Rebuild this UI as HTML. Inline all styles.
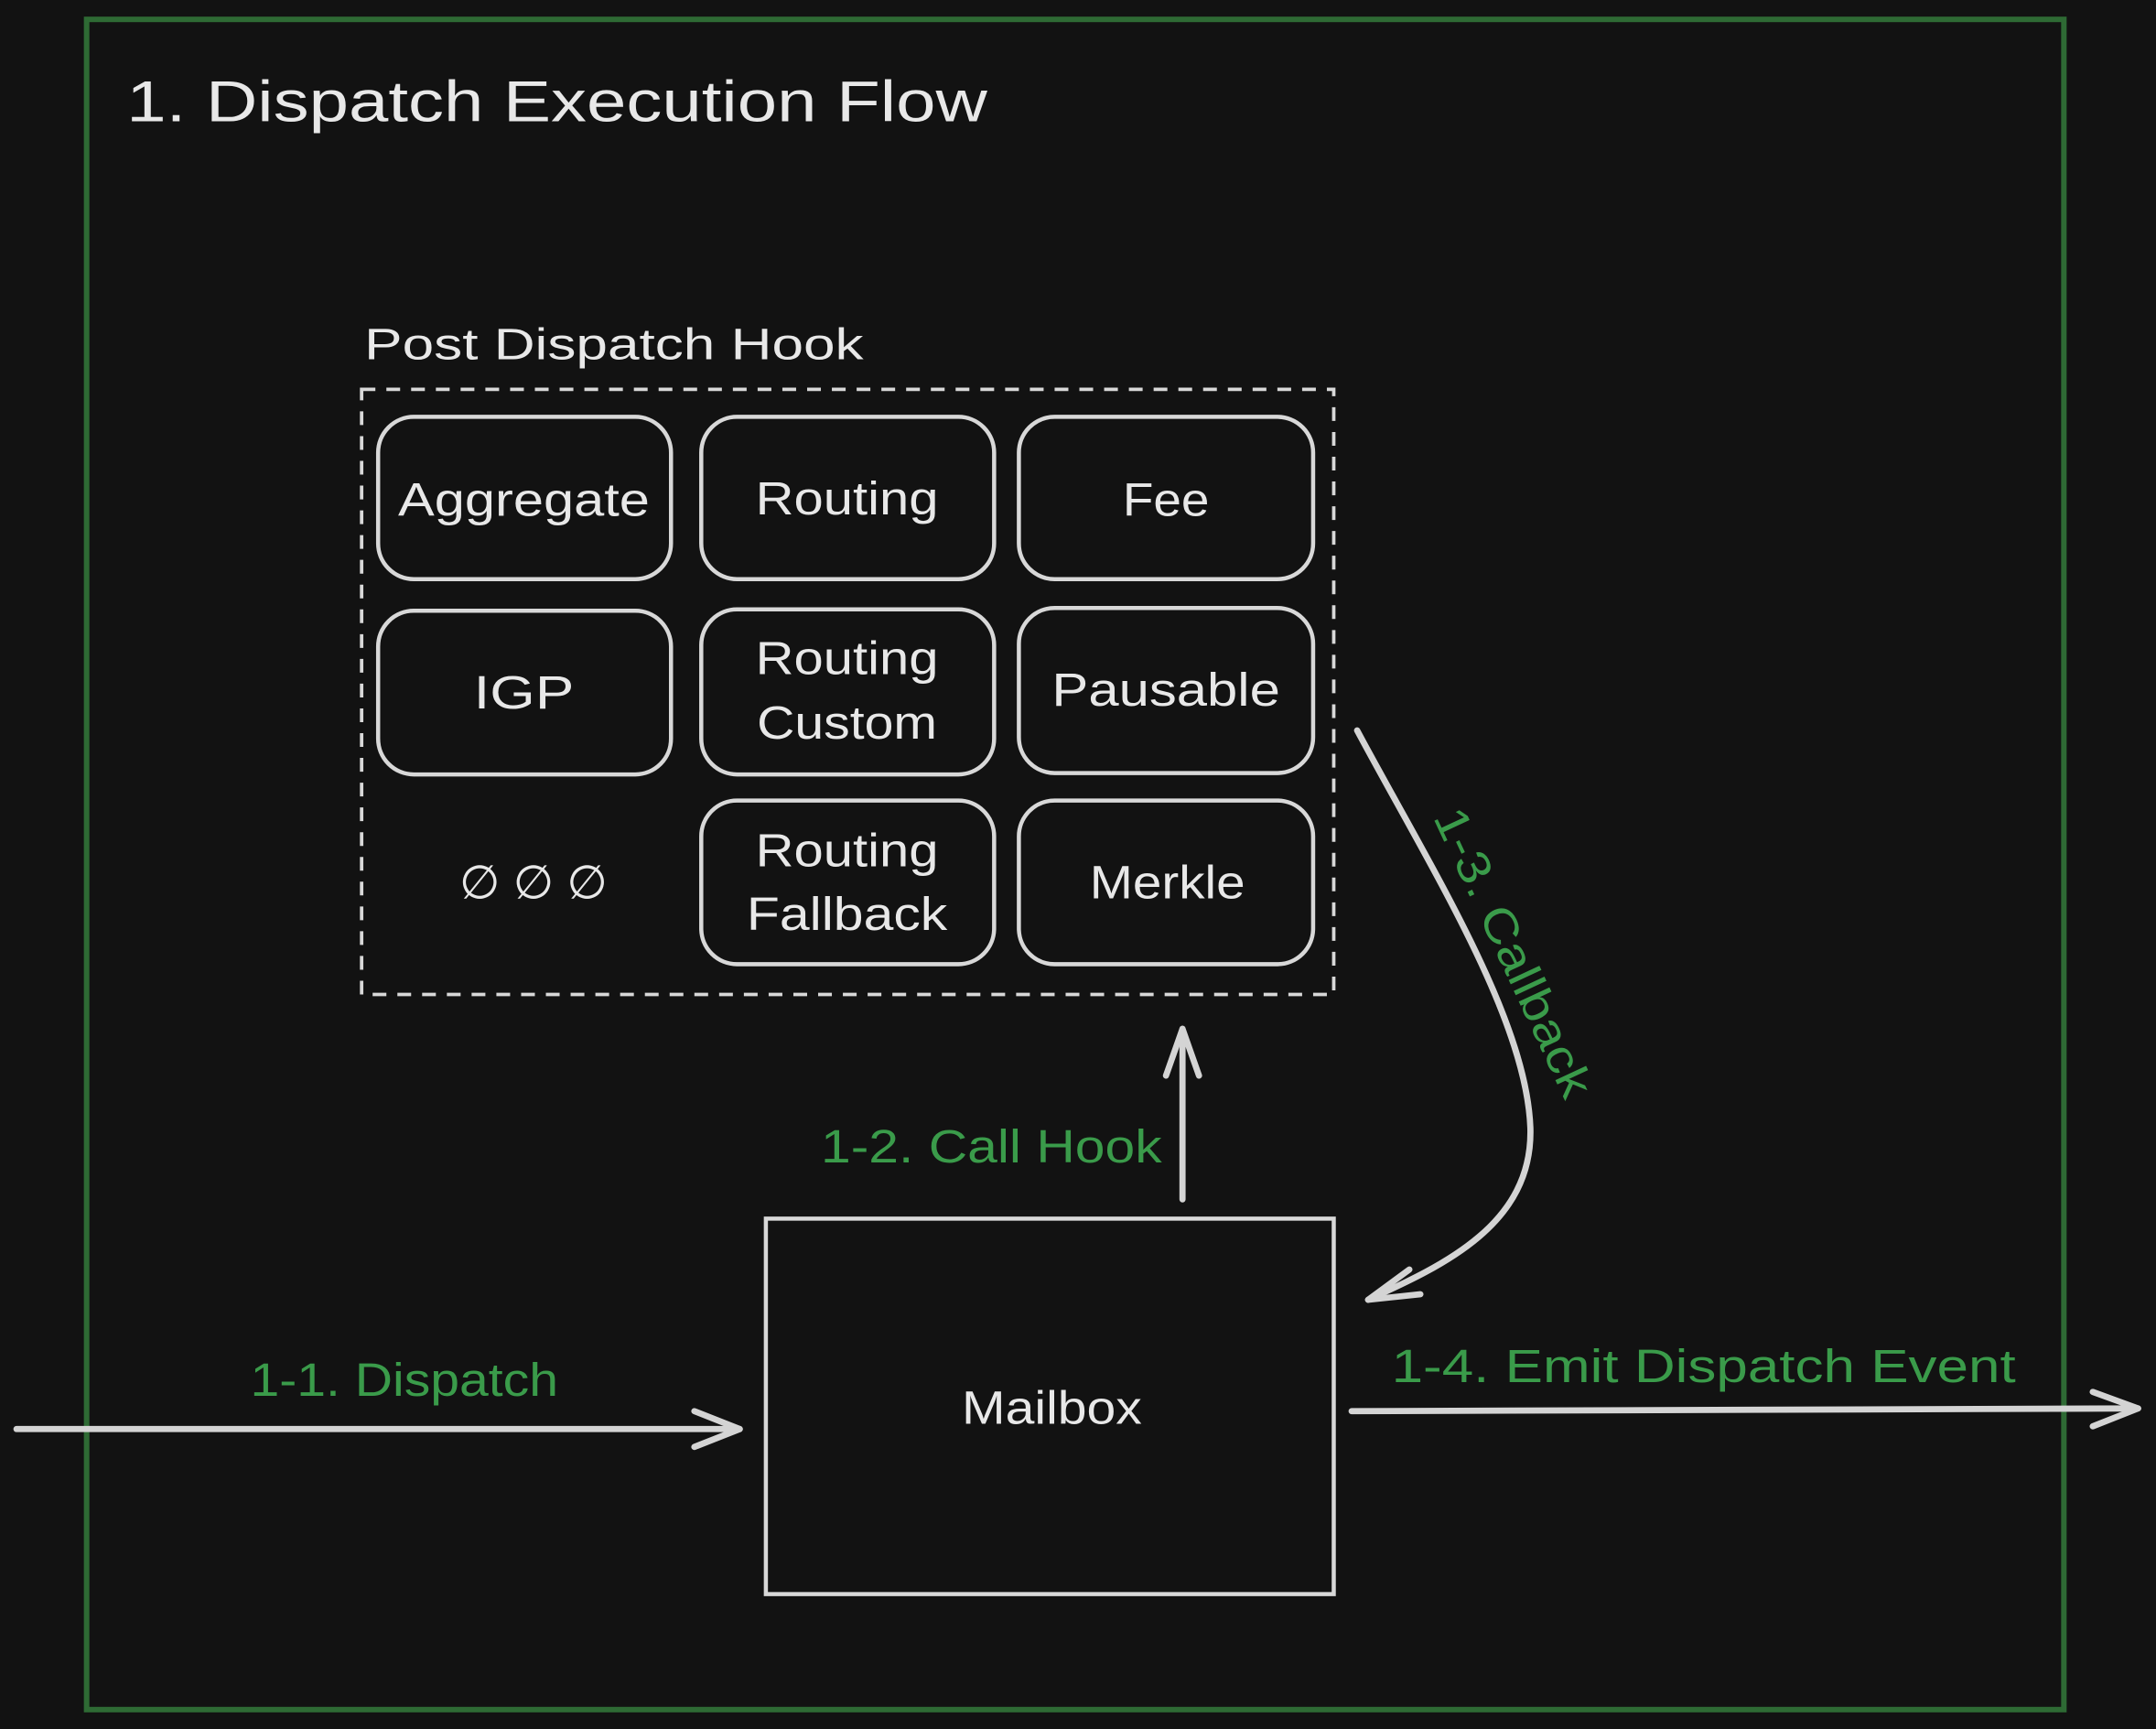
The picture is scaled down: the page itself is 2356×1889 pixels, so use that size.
<!DOCTYPE html>
<html><head><meta charset="utf-8"><style>
html,body{margin:0;padding:0;background:#121212;}
svg{display:block;}
text{font-family:"Liberation Sans",sans-serif;}
</style></head><body>
<svg width="2356" height="1889" viewBox="0 0 1568 1257" xmlns="http://www.w3.org/2000/svg">
<rect x="0" y="0" width="1568" height="1257" fill="#121212"/>
<rect x="63" y="14" width="1438" height="1229" fill="none" stroke="#2e6a34" stroke-width="4"/>
<text x="92" y="88" fill="#e8e8e8" font-size="42" textLength="626" lengthAdjust="spacingAndGlyphs">1. Dispatch Execution Flow</text>
<text x="265" y="261" fill="#e8e8e8" font-size="32" textLength="363" lengthAdjust="spacingAndGlyphs">Post Dispatch Hook</text>
<rect x="263" y="283" width="707" height="440" fill="none" stroke="#d8d8d8" stroke-width="2.5" stroke-dasharray="10 8"/>
<g fill="none" stroke="#d8d8d8" stroke-width="3">
<rect x="275" y="303" width="213" height="118" rx="26"/>
<rect x="510" y="303" width="213" height="118" rx="26"/>
<rect x="741" y="303" width="214" height="118" rx="26"/>
<rect x="275" y="444" width="213" height="119" rx="26"/>
<rect x="510" y="443" width="213" height="120" rx="26"/>
<rect x="741" y="442" width="214" height="120" rx="26"/>
<rect x="510" y="582" width="213" height="119" rx="26"/>
<rect x="741" y="582" width="214" height="119" rx="26"/>
<rect x="557" y="886" width="413" height="273"/>
</g>
<g fill="#e8e8e8" font-size="34" text-anchor="middle">
<text x="381" y="375" textLength="183" lengthAdjust="spacingAndGlyphs">Aggregate</text>
<text x="616" y="374" textLength="133" lengthAdjust="spacingAndGlyphs">Routing</text>
<text x="848" y="375" textLength="63" lengthAdjust="spacingAndGlyphs">Fee</text>
<text x="381" y="515" textLength="73" lengthAdjust="spacingAndGlyphs">IGP</text>
<text x="616" y="490" textLength="133" lengthAdjust="spacingAndGlyphs">Routing</text>
<text x="616" y="537" textLength="131" lengthAdjust="spacingAndGlyphs">Custom</text>
<text x="848" y="513" textLength="166" lengthAdjust="spacingAndGlyphs">Pausable</text>
<text x="388" y="653">∅ ∅ ∅</text>
<text x="616" y="630" textLength="133" lengthAdjust="spacingAndGlyphs">Routing</text>
<text x="616" y="676" textLength="146" lengthAdjust="spacingAndGlyphs">Fallback</text>
<text x="849" y="653" textLength="113" lengthAdjust="spacingAndGlyphs">Merkle</text>
<text x="765" y="1035" textLength="131" lengthAdjust="spacingAndGlyphs">Mailbox</text>
</g>
<g fill="none" stroke="#d4d4d4" stroke-width="4.5" stroke-linecap="round" stroke-linejoin="round">
<path d="M12 1039 L538 1039"/>
<path d="M505 1026 L538 1039 L505 1052"/>
<path d="M860 872 L860 748"/>
<path d="M848 782 L860 748 L872 782"/>
<path d="M987 531 C1040 630 1110 740 1113 820 C1115 890 1050 920 995 945"/>
<path d="M1025 923 L995 945 L1033 941"/>
<path d="M983 1026 L1555 1024"/>
<path d="M1522 1012 L1555 1024 L1522 1037"/>
</g>
<g fill="#3a9b4a" font-size="34">
<text x="182" y="1015" textLength="224" lengthAdjust="spacingAndGlyphs">1-1. Dispatch</text>
<text x="597" y="845" textLength="248" lengthAdjust="spacingAndGlyphs">1-2. Call Hook</text>
<text x="1012" y="1005" textLength="454" lengthAdjust="spacingAndGlyphs">1-4. Emit Dispatch Event</text>
<text x="0" y="0" transform="translate(1042,594) rotate(65)" textLength="228" lengthAdjust="spacingAndGlyphs">1-3. Callback</text>
</g>
</svg>
</body></html>
